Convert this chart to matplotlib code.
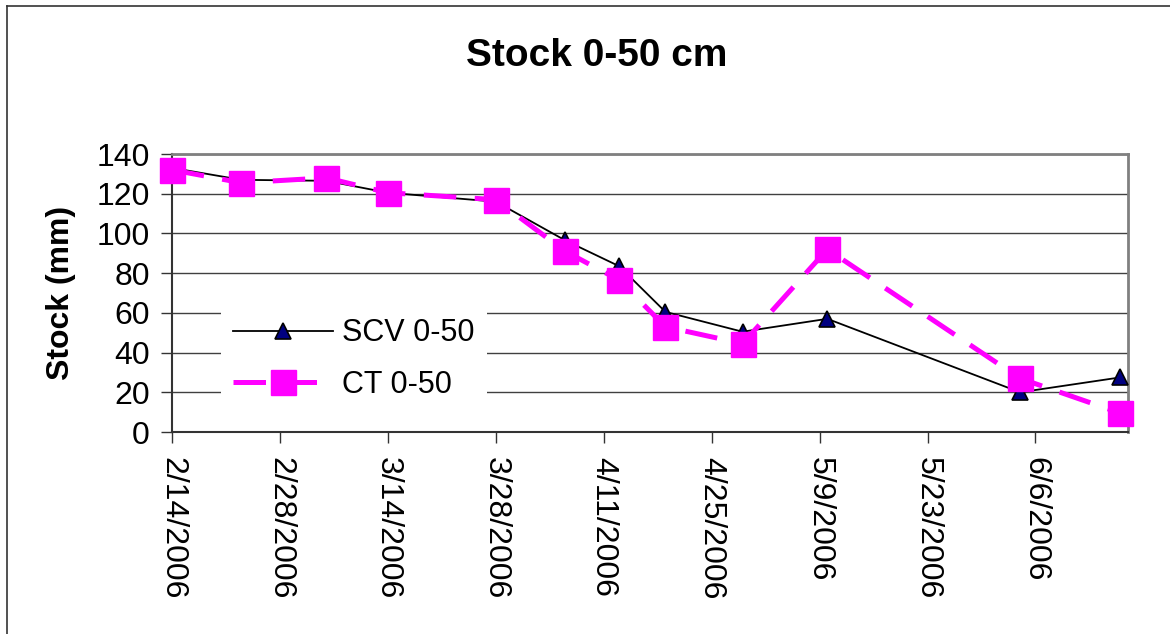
import datetime as dt
import matplotlib
matplotlib.use("Agg")
import matplotlib.pyplot as plt
from matplotlib.lines import Line2D

plt.rcParams['font.family'] = ['Liberation Sans', 'DejaVu Sans']

dates = ["2006-02-14", "2006-02-23", "2006-03-06", "2006-03-14", "2006-03-28", "2006-04-06",
         "2006-04-13", "2006-04-19", "2006-04-29", "2006-05-10", "2006-06-04", "2006-06-17"]
scv = [133, 127, 126.5, 120.5, 116, 96.5, 83.5, 60.5, 50.5, 57, 20, 27.5]
ct = [132, 125.5, 128, 120.5, 117, 91, 76.5, 53, 44.5, 92, 27, 9.5]
yticks = [0, 20, 40, 60, 80, 100, 120, 140]

x = [dt.datetime.strptime(d, "%Y-%m-%d") for d in dates]

fig = plt.figure(figsize=(11.7, 6.34), dpi=100)
ax = fig.add_axes([172/1170, 1 - 432/634, (1128-172)/1170, (432-154)/634])

ax.plot(x, scv, color='black', lw=1.3, marker='^', markersize=12,
        markerfacecolor='#000080', markeredgecolor='black', markeredgewidth=1.2,
        label='SCV 0-50', zorder=3)
ax.plot(x, ct, color='#ff00ff', lw=3.6, dashes=(6.5, 3.7), marker='s', markersize=18,
        markerfacecolor='#ff00ff', markeredgecolor='#ff00ff', label='CT 0-50', zorder=4,
        clip_on=False)

ax.set_ylim(0, 140)
ax.set_yticks(yticks)
ax.set_xlim(dt.datetime(2006, 2, 14), dt.datetime(2006, 6, 18))
ticks = [dt.datetime(2006, 2, 14) + dt.timedelta(days=14 * i) for i in range(9)]
ax.set_xticks(ticks)
ax.set_xticklabels([f"{t.month}/{t.day}/{t.year}" for t in ticks], rotation=-90, va='top', ha='center')

ax.grid(axis='y', color='#404040', lw=1.0)
ax.set_axisbelow(True)
for s in ['top', 'right']:
    ax.spines[s].set_color('#808080')
    ax.spines[s].set_linewidth(2)
for s in ['left', 'bottom']:
    ax.spines[s].set_color('#333333')
    ax.spines[s].set_linewidth(1.5)
ax.tick_params(axis='both', direction='out', length=8, width=1, color='#333333', labelsize=23)
ax.tick_params(axis='y', pad=8)
ax.tick_params(axis='x', pad=10)

ax.set_ylabel("Stock (mm)", fontsize=23, fontweight='bold')
ax.yaxis.set_label_coords(-0.100, 0.5)

fig.text(597/1170, 1 - 56/634, "Stock 0-50 cm", fontsize=28, fontweight='bold', ha='center', va='center')

leg = ax.legend(loc='upper left', bbox_to_anchor=(0.051, 0.453), fontsize=22, frameon=True,
                facecolor='white', edgecolor='none', framealpha=1, fancybox=False,
                handlelength=3.27, handletextpad=0.3, labelspacing=0.7, borderpad=0.4,
                borderaxespad=0)

# outer chart border (only left and top visible)
fig.add_artist(Line2D([7/1170, 7/1170], [0, 1 - 6/634], color='#333333', lw=1.2))
fig.add_artist(Line2D([7/1170, 1], [1 - 6/634, 1 - 6/634], color='#333333', lw=1.2))

fig.savefig("out.png", dpi=100)
